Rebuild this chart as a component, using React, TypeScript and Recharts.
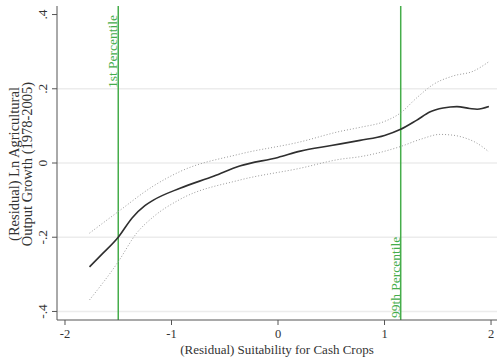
import React from "react";
import { LineChart, Line, XAxis, YAxis, ReferenceLine, Label } from "recharts";

const fitX = [-1.77, -1.65, -1.5, -1.37, -1.25, -1.17, -0.92, -0.6, -0.36, 0.0, 0.21, 0.5, 0.77, 1.0, 1.146, 1.3, 1.43, 1.55, 1.68, 1.8, 1.87, 1.98];
const fitY = [-0.28, -0.245, -0.2, -0.148, -0.115, -0.1, -0.068, -0.035, -0.008, 0.015, 0.032, 0.047, 0.061, 0.074, 0.09, 0.115, 0.138, 0.148, 0.152, 0.147, 0.145, 0.152];

const upX = [-1.77, -1.5, -1.17, -0.92, -0.36, 0.21, 0.58, 0.77, 1.0, 1.146, 1.3, 1.46, 1.65, 1.83, 1.98];
const upY = [-0.189, -0.131, -0.062, -0.023, 0.024, 0.057, 0.085, 0.096, 0.112, 0.134, 0.175, 0.212, 0.235, 0.247, 0.273];

const loX = [-1.77, -1.5, -1.33, -1.17, -0.92, -0.36, 0.21, 0.58, 0.77, 1.146, 1.35, 1.52, 1.64, 1.75, 1.87, 1.98];
const loY = [-0.369, -0.266, -0.19, -0.145, -0.098, -0.046, -0.014, 0.01, 0.017, 0.044, 0.065, 0.077, 0.075, 0.068, 0.053, 0.03];

const xTicks = [-2, -1, 0, 1, 2];
const yTicks = [-0.4, -0.2, 0, 0.2, 0.4];
const yTickLabels = ["-.4", "-.2", "0", ".2", ".4"];
const gridY = [-0.4, -0.2, 0, 0.2];
const pctX = [-1.5, 1.152];
const pctLabels = ["1st Percentile", "99th Percentile"];

const xTitle = "(Residual) Suitability for Cash Crops";
const yTitle1 = "(Residual) Ln Agricultural";
const yTitle2 = "Output Growth (1978-2005)";

const toData = (xs: number[], ys: number[]) => xs.map((x, i) => ({ x, y: ys[i] }));
const fit = toData(fitX, fitY);
const upper = toData(upX, upY);
const lower = toData(loX, loY);

const FONT = "'Liberation Serif', 'DejaVu Serif', serif";
const AXIS = "#555555";
const GREEN = "#45ad4a";
const TEXT = "#333333";

const YTick = (props: any) => {
  const { y, payload } = props;
  const idx = yTicks.indexOf(payload.value);
  const label = idx >= 0 ? yTickLabels[idx] : String(payload.value);
  return (
    <text x={47} y={y} transform={`rotate(-90, 47, ${y})`} textAnchor="middle" fontFamily={FONT} fontSize={13.5} fill={TEXT}>
      {label}
    </text>
  );
};

const XTick = (props: any) => {
  const { x, payload } = props;
  return (
    <text x={x} y={338} textAnchor="middle" fontFamily={FONT} fontSize={12.5} fill={TEXT}>
      {payload.value}
    </text>
  );
};

export default function App() {
  return (
    <div style={{ position: "absolute", left: 0, top: 0, background: "#fff" }}>
      <LineChart width={499} height={358} margin={{ top: 6, right: 2, bottom: 0, left: 0 }}>
        {gridY.map((v) => (
          <ReferenceLine key={"g" + v} y={v} stroke="#ececec" strokeWidth={1.5} />
        ))}
        <XAxis
          type="number"
          dataKey="x"
          domain={[-2.075, 2.056]}
          ticks={xTicks}
          allowDataOverflow
          height={38}
          stroke={AXIS}
          tickSize={5}
          tick={<XTick />}
        >
          <Label
            content={() => (
              <text x={277} y={354} textAnchor="middle" fontFamily={FONT} fontSize={13} fill={TEXT}>
                {xTitle}
              </text>
            )}
          />
        </XAxis>
        <YAxis
          type="number"
          dataKey="y"
          domain={[-0.423, 0.423]}
          ticks={yTicks}
          allowDataOverflow
          width={57}
          stroke={AXIS}
          tickSize={5}
          tick={<YTick />}
        >
          <Label
            content={() => (
              <g>
                <text x={18.5} y={164} transform="rotate(-90, 18.5, 164)" textAnchor="middle" fontFamily={FONT} fontSize={14.5} fill={TEXT}>
                  {yTitle1}
                </text>
                <text x={31.5} y={164} transform="rotate(-90, 31.5, 164)" textAnchor="middle" fontFamily={FONT} fontSize={14.5} fill={TEXT}>
                  {yTitle2}
                </text>
              </g>
            )}
          />
        </YAxis>
        <ReferenceLine
          x={pctX[0]}
          stroke={GREEN}
          strokeWidth={1.5}
          label={(p: any) => {
            const vx = p.viewBox.x;
            return (
              <text x={vx - 1} y={15} transform={`rotate(-90, ${vx - 1}, 15)`} textAnchor="end" fontFamily={FONT} fontSize={13.5} fill={GREEN}>
                {pctLabels[0]}
              </text>
            );
          }}
        />
        <ReferenceLine
          x={pctX[1]}
          stroke={GREEN}
          strokeWidth={1.5}
          label={(p: any) => {
            const vx = p.viewBox.x;
            return (
              <text x={vx - 0.5} y={318} transform={`rotate(-90, ${vx - 0.5}, 318)`} textAnchor="start" fontFamily={FONT} fontSize={13.5} fill={GREEN}>
                {pctLabels[1]}
              </text>
            );
          }}
        />
        <Line data={upper} dataKey="y" type="monotone" stroke="#9a9a9a" strokeWidth={1} strokeDasharray="1 2" dot={false} isAnimationActive={false} />
        <Line data={lower} dataKey="y" type="monotone" stroke="#9a9a9a" strokeWidth={1} strokeDasharray="1 2" dot={false} isAnimationActive={false} />
        <Line data={fit} dataKey="y" type="monotone" stroke="#2f2f2f" strokeWidth={1.6} dot={false} isAnimationActive={false} />
      </LineChart>
    </div>
  );
}
